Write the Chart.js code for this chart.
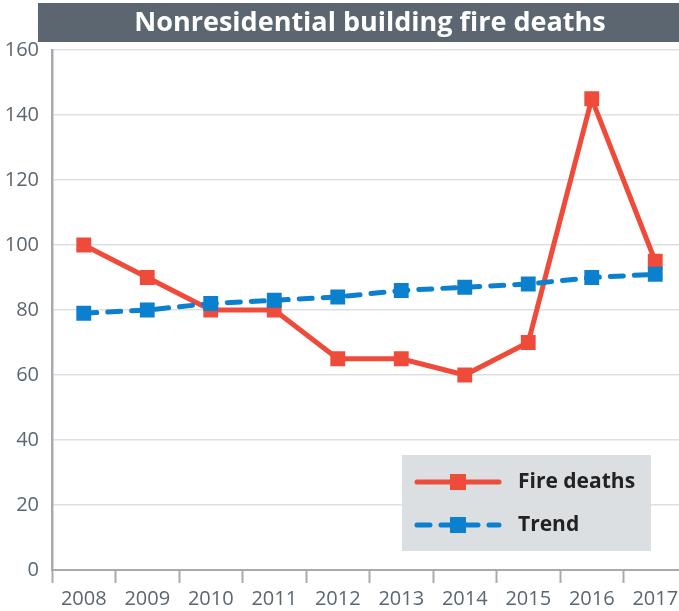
<!DOCTYPE html>
<html>
<head>
<meta charset="utf-8">
<script src="https://cdn.jsdelivr.net/npm/chart.js@4"></script>
<style>
  html, body { margin: 0; padding: 0; background: #fff; overflow: hidden; }
  #wrap { position: relative; width: 700px; height: 611px; }
</style>
</head>
<body>
<div id="wrap"><canvas id="Chart1" width="700" height="611"></canvas></div>
<script>
const titleText = 'Nonresidential building fire deaths';
const years = ['2008', '2009', '2010', '2011', '2012', '2013', '2014', '2015', '2016', '2017'];
const fireDeaths = [100, 90, 80, 80, 65, 65, 60, 70, 145, 95];
const trend = [79, 80, 82, 83, 84, 86, 87, 88, 90, 91];
const yTicks = [0, 20, 40, 60, 80, 100, 120, 140, 160];

const red = '#ef4b3a';
const blue = '#0a80cf';
const grey = '#5b6670';

// title bar on top + legend box inside the plot
const decor = {
    id: 'decor',
    afterDraw(chart){
        const ctx = chart.ctx;
        ctx.save();
        ctx.fillStyle = grey;
        ctx.fillRect(38, 3, chart.width - 38, 39);
        ctx.fillStyle = '#ffffff';
        ctx.font = 'bold 27px "Open Sans"';
        ctx.textAlign = 'center';
        ctx.textBaseline = 'middle';
        ctx.fillText(titleText, 370, 23);

        // legend
        const lx = 402, ly = 455;
        ctx.fillStyle = '#dcdfe2';
        ctx.fillRect(lx, ly, 249, 96);
        const items = [chart.data.datasets[1], chart.data.datasets[0]];
        items.forEach((ds, i) => {
            const y = ly + 27 + i * 43;
            ctx.strokeStyle = ds.borderColor;
            ctx.lineWidth = 5;
            ctx.lineCap = 'round';
            ctx.setLineDash(ds.borderDash || []);
            ctx.beginPath();
            ctx.moveTo(417, y);
            ctx.lineTo(499, y);
            ctx.stroke();
            ctx.setLineDash([]);
            ctx.fillStyle = ds.borderColor;
            ctx.fillRect(450, y - 8, 16, 16);
            ctx.fillStyle = '#222222';
            ctx.font = 'bold 21px "Open Sans"';
            ctx.textAlign = 'left';
            ctx.textBaseline = 'middle';
            ctx.fillText(ds.label, 518, y);
        });
        ctx.restore();
    }
};

const ctx1 = document.getElementById('Chart1');
new Chart(ctx1, {
    type: 'line',
    data: {
        labels: years,
        datasets: [
            {
                label: 'Trend',
                data: trend,
                borderColor: blue,
                backgroundColor: blue,
                borderWidth: 5,
                borderDash: [13, 11],
                borderCapStyle: 'round',
                pointStyle: 'rect',
                pointRadius: 10.5,
                pointBorderWidth: 0,
                tension: 0
            },
            {
                label: 'Fire deaths',
                data: fireDeaths,
                borderColor: red,
                backgroundColor: red,
                borderWidth: 5,
                pointStyle: 'rect',
                pointRadius: 10.5,
                pointBorderWidth: 0,
                tension: 0
            }
        ]
    },
    options: {
        responsive: false,
        animation: false,
        layout: { padding: { top: 50, right: 13, left: 0, bottom: 0 } },
        plugins: {
            legend: { display: false },
            title: { display: false },
            tooltip: { enabled: false }
        },
        scales: {
            x: {
                offset: true,
                afterFit(axis){ axis.height = 41; },
                grid: {
                    offset: true,
                    drawOnChartArea: false,
                    drawTicks: true,
                    tickLength: 13,
                    tickWidth: 2,
                    tickColor: '#a7abaf'
                },
                border: { color: '#a7abaf', width: 2 },
                ticks: {
                    color: grey,
                    font: { family: 'Open Sans', size: 20 },
                    padding: 4,
                    maxRotation: 0
                }
            },
            y: {
                min: 0,
                max: 160,
                afterFit(axis){ axis.width = 52; },
                afterBuildTicks(axis){
                    axis.ticks = yTicks.map(v => ({ value: v }));
                },
                grid: {
                    color: '#dde0e3',
                    lineWidth: 1.5,
                    drawTicks: false
                },
                border: { color: '#a7abaf', width: 2.5 },
                ticks: {
                    color: grey,
                    font: { family: 'Open Sans', size: 20 },
                    padding: 13
                }
            }
        }
    },
    plugins: [decor]
});
</script>
</body>
</html>
